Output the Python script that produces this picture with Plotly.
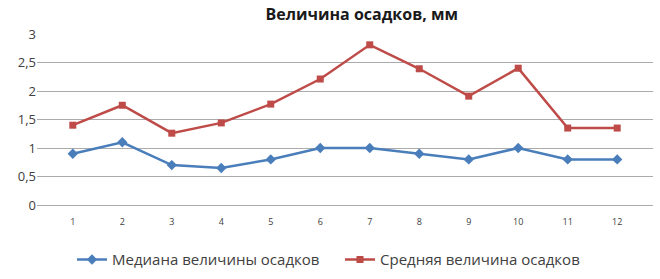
import plotly.graph_objects as go

months = [str(i) for i in range(1, 13)]
median_vals = [0.9, 1.1, 0.7, 0.65, 0.8, 1.0, 1.0, 0.9, 0.8, 1.0, 0.8, 0.8]
mean_vals = [1.4, 1.75, 1.26, 1.44, 1.77, 2.21, 2.81, 2.39, 1.91, 2.4, 1.35, 1.35]
y_ticks = [0, 0.5, 1, 1.5, 2, 2.5, 3]
y_labels = ["0", "0,5", "1", "1,5", "2", "2,5", "3"]

fig = go.Figure()
fig.add_trace(go.Scatter(x=months, y=median_vals, mode="lines+markers",
                         name="Медиана величины осадков", legend="legend",
                         line=dict(color="#4a7ebb", width=2.5),
                         marker=dict(symbol="diamond", size=8, color="#4a7ebb")))
fig.add_trace(go.Scatter(x=months, y=mean_vals, mode="lines+markers",
                         name="Средняя величина осадков", legend="legend2",
                         line=dict(color="#be4b48", width=2.5),
                         marker=dict(symbol="square", size=7, color="#be4b48")))

leg_common = dict(orientation="h", yanchor="middle", y=-0.32, xanchor="left",
                  font=dict(size=15, color="#404040"), itemwidth=30,
                  bgcolor="rgba(0,0,0,0)")

fig.update_layout(
    width=660, height=279,
    margin=dict(l=37, r=7, t=34, b=74, autoexpand=False),
    paper_bgcolor="white", plot_bgcolor="white",
    font=dict(family="Open Sans, Noto Sans, sans-serif", color="#404040"),
    title=dict(text="<b>Величина осадков, мм</b>", x=0.548, xanchor="center",
               y=0.95, yanchor="middle", font=dict(size=16, color="#1a1a1a")),
    showlegend=True,
    legend=dict(x=(72 - 37) / 616, **leg_common),
    legend2=dict(x=(340 - 37) / 616, **leg_common),
    xaxis=dict(type="category", showgrid=False, showline=False, ticks="",
               tickfont=dict(size=9, color="#404040"), zeroline=False,
               ticklabelstandoff=10),
    yaxis=dict(range=[0, 3], tickvals=y_ticks, ticktext=y_labels,
               showgrid=True, gridcolor="#ababab", gridwidth=1,
               zeroline=True, zerolinecolor="#ababab", zerolinewidth=1,
               showline=False, ticks="",
               tickfont=dict(size=13, color="#404040")),
)
fig.write_html("out.html")
